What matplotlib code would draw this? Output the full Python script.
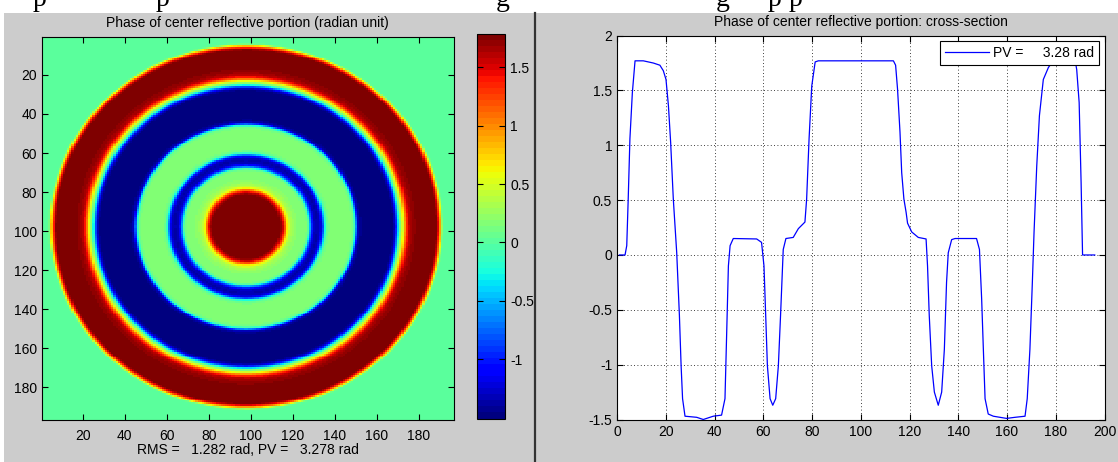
import numpy as np
import matplotlib
matplotlib.use("Agg")
import matplotlib.pyplot as plt
from matplotlib.patches import Rectangle
from matplotlib.lines import Line2D

plt.rcParams['font.family'] = ['Liberation Sans', 'DejaVu Sans']
plt.rcParams['axes.unicode_minus'] = False

# cross-section through the centre row (pixel index, phase in rad)
cs_x = [1, 3.3, 4.0, 4.6, 5.3, 6.3, 7.4, 10.8, 14.9, 17.6, 19.0, 20.1, 21.1, 22.0,
        23.1, 24.5, 25.6, 26.3, 26.9, 27.9, 32.7, 35.4, 39.5, 42.9, 44.3, 45.0,
        45.7, 46.4, 47.7, 57.3, 59.3, 60.3, 61.0, 61.7, 62.8, 63.9, 65.1, 66.2,
        67.1, 68.2, 69.3, 72.3, 74.4, 77.1, 77.8, 78.8, 79.9, 81.3, 82.6, 113.4,
        114.3, 115.1, 116.1, 116.8, 117.7, 118.6, 119.2, 120.9, 123.6, 126.8,
        127.4, 128.1, 129.1, 130.2, 131.8, 133.2, 134.3, 135.2, 135.9, 137.3,
        138.7, 147.5, 148.7, 149.6, 150.3, 151.0, 152.3, 154.4, 159.8, 163.3,
        167.4, 168.3, 169.4, 170.4, 171.1, 172.2, 173.3, 174.9, 177.0, 179.0,
        188.0, 188.6, 189.6, 190.4, 191.0, 196]
cs_phase = [0, 0, 0.085, 0.51, 1.06, 1.48, 1.77, 1.77, 1.75, 1.73, 1.68, 1.60, 1.36,
            1.03, 0.51, 0.02, -0.55, -1.01, -1.31, -1.47, -1.48, -1.50, -1.47, -1.46,
            -1.31, -0.71, -0.10, 0.085, 0.15, 0.146, 0.115, -0.10, -0.55, -1.01,
            -1.31, -1.37, -1.31, -1.01, -0.55, 0.05, 0.15, 0.16, 0.24, 0.30, 0.51,
            1.06, 1.54, 1.76, 1.77, 1.77, 1.73, 1.51, 1.12, 0.75, 0.51, 0.39, 0.29,
            0.21, 0.16, 0.146, -0.10, -0.55, -1.01, -1.25, -1.37, -1.25, -0.86,
            -0.25, 0.02, 0.14, 0.15, 0.15, 0.05, -0.40, -0.86, -1.31, -1.45, -1.47,
            -1.49, -1.48, -1.47, -1.31, -0.86, -0.25, 0.21, 0.81, 1.27, 1.60, 1.71,
            1.77, 1.77, 1.69, 1.39, 0.66, 0.0, 0.0]

# radial profile of the phase map (distance from centre in pixels, phase in rad)
ring_r = [0, 15.5, 16.2, 17.5, 18.7, 19.5, 20.2, 21.0, 23.2, 25.5, 28.5, 29.6, 30.5,
          31.5, 32.5, 34.0, 35.2, 36.2, 37.0, 37.7, 38.4, 39.5, 40.5, 49.9, 51.1,
          51.9, 52.6, 53.3, 54.7, 58.0, 62.2, 65.5, 69.7, 70.7, 71.5, 72.4, 73.2,
          74.5, 75.6, 76.5, 77.5, 78.8, 80.0, 82.7, 86.8, 90.5, 91.3, 92.2, 93.0,
          93.6, 94.3, 200]
ring_phase = [1.77, 1.77, 1.76, 1.52, 1.08, 0.65, 0.51, 0.35, 0.22, 0.16, 0.15, 0.0,
              -0.55, -1.01, -1.30, -1.37, -1.30, -0.98, -0.45, -0.12, 0.07, 0.14,
              0.15, 0.15, 0.07, -0.25, -0.78, -1.31, -1.46, -1.47, -1.50, -1.48,
              -1.47, -1.31, -0.95, -0.40, 0.05, 0.51, 1.03, 1.36, 1.60, 1.68, 1.73,
              1.75, 1.77, 1.77, 1.55, 1.10, 0.55, 0.10, 0.0, 0.0]

map_size = 196
map_center = 97.6
phase_lo, phase_hi = -1.507, 1.785

img_ticks = [20, 40, 60, 80, 100, 120, 140, 160, 180]
cbar_ticks = [-1, -0.5, 0, 0.5, 1, 1.5]
cbar_labels = ['-1', '-0.5', '0', '0.5', '1', '1.5']
cs_xticks = [0, 20, 40, 60, 80, 100, 120, 140, 160, 180, 200]
cs_yticks = [-1.5, -1, -0.5, 0, 0.5, 1, 1.5, 2]
cs_ylabels = ['-1.5', '-1', '-0.5', '0', '0.5', '1', '1.5', '2']

title_map = 'Phase of center reflective portion (radian unit)'
title_cs = 'Phase of center reflective portion: cross-section'
rms_text = 'RMS =   1.282 rad, PV =   3.278 rad'
pv_label = 'PV =     3.28 rad'

# cut-off letters of the text line above the screenshot
crop_letters = ['p', 'p', 'g', 'g', 'p', 'p']
crop_letter_x = [33, 156, 496, 716, 768, 789]

W, H = 1118, 462
fig = plt.figure(figsize=(W / 100, H / 100), dpi=100, facecolor='white')


def box(l, t, r, b):
    return [l / W, 1 - b / H, (r - l) / W, (b - t) / H]


# grey panel + divider
fig.patches.append(Rectangle((4 / W, 0), 1, 1 - 13 / H, transform=fig.transFigure,
                             facecolor='#cccccc', edgecolor='none', zorder=-10))
fig.add_artist(Line2D([534.5 / W, 534.5 / W], [0, 1 - 13 / H], transform=fig.transFigure,
                      color='#333333', lw=1.6))
for ch, px in zip(crop_letters, crop_letter_x):
    fig.text(px / W, 1 - 6 / H, ch, family='Liberation Serif', fontsize=20,
             ha='left', va='baseline', color='black')

fs = 10
tick_kw = dict(direction='in', length=4, width=0.8, labelsize=fs, colors='black')

# phase map
yy, xx = np.mgrid[1:map_size + 1, 1:map_size + 1]
rr = np.hypot(xx - map_center, yy - map_center)
phase_map = np.interp(rr, ring_r, ring_phase)

cmap = plt.get_cmap('jet', 64)
ax1 = fig.add_axes(box(41.8, 36.8, 453.6, 419.6))
im = ax1.imshow(phase_map, cmap=cmap, vmin=phase_lo, vmax=phase_hi, aspect='auto',
                interpolation='nearest', extent=(0.5, map_size + 0.5, map_size + 0.5, 0.5))
ax1.set_xticks(img_ticks)
ax1.set_yticks(img_ticks)
ax1.tick_params(**tick_kw, top=True, right=True)
ax1.tick_params(axis='x', pad=7)
ax1.set_title(title_map, fontsize=fs, pad=7)
ax1.set_xlabel(rms_text, fontsize=fs, labelpad=0)
for s in ax1.spines.values():
    s.set_linewidth(0.8)

cax = fig.add_axes(box(476.8, 34.0, 505.4, 418.5))
cb = fig.colorbar(im, cax=cax)
cb.set_ticks(cbar_ticks)
cb.set_ticklabels(cbar_labels)
cax.tick_params(**tick_kw, left=True, right=True)
cb.outline.set_linewidth(0.8)

# cross-section
ax2 = fig.add_axes(box(617, 35.6, 1104.5, 419.5))
ax2.plot(cs_x, cs_phase, color='blue', lw=0.9, label=pv_label)
ax2.set_xlim(0, 200)
ax2.set_ylim(-1.5, 2)
ax2.set_xticks(cs_xticks)
ax2.set_yticks(cs_yticks)
ax2.set_yticklabels(cs_ylabels)
ax2.tick_params(**tick_kw, top=True, right=True)
ax2.tick_params(axis='x', pad=4)
ax2.grid(True, color='black', linestyle=(0, (1, 3)), lw=0.6)
ax2.set_title(title_cs, fontsize=fs, pad=7)
for s in ax2.spines.values():
    s.set_linewidth(0.8)
leg = ax2.legend(loc='upper right', bbox_to_anchor=(1099 / W, 1 - 41 / H),
                 bbox_transform=fig.transFigure, borderaxespad=0, fancybox=False,
                 framealpha=1, edgecolor='black', fontsize=fs, handlelength=3.2,
                 handletextpad=0.3, borderpad=0.35)
leg.get_frame().set_linewidth(0.8)

fig.savefig('out.png', dpi=100, facecolor=fig.get_facecolor())
